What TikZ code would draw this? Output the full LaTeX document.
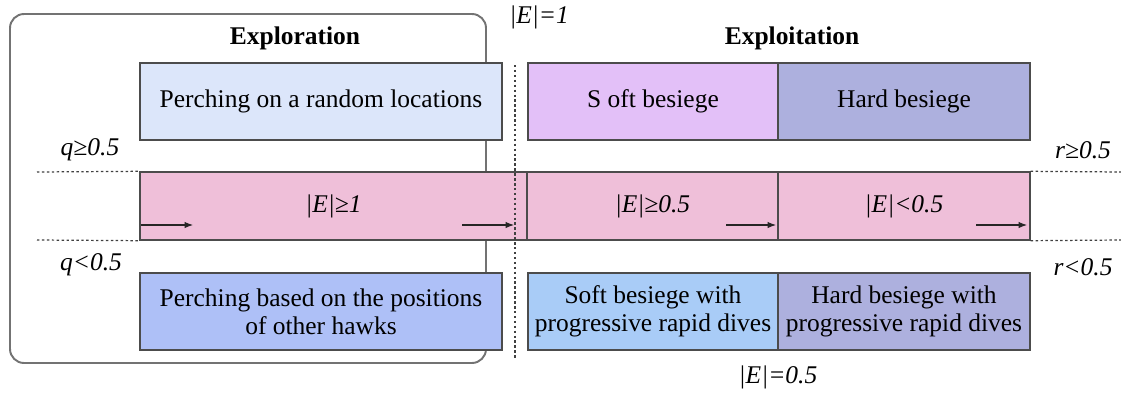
\documentclass[tikz,border=0pt]{standalone}
\usepackage{fontspec}
\setmainfont{Liberation Serif}
\usepackage{tikz}
\usetikzlibrary{arrows.meta,positioning}
\definecolor{pale}{HTML}{DCE6FA}
\definecolor{lilac}{HTML}{E3C0F8}
\definecolor{slate}{HTML}{ADB0DE}
\definecolor{rose}{HTML}{EFBFD9}
\definecolor{peri}{HTML}{AEC0F7}
\definecolor{sky}{HTML}{A9CCF7}
\tikzset{
  tx/.style={font=\fontsize{14.5}{16}\selectfont},
  ti/.style={font=\fontsize{14.5}{16}\selectfont\itshape},
  hd/.style={font=\fontsize{14.5}{16}\selectfont\bfseries},
  phase/.style={rectangle,draw=black!70,line width=.8pt,inner sep=2pt,align=center,
    font=\fontsize{14.5}{16}\selectfont},
  grp/.style={draw=black!55,line width=1.1pt,rounded corners=8pt},
  sep/.style={draw=black!75,line width=.7pt,dash pattern=on 1.4pt off 1.4pt},
  flow/.style={-{Latex[length=1.7mm,width=1.3mm]},line width=.6pt,draw=black!85},
}
\begin{document}
\begin{tikzpicture}[x=0.02cm,y=-0.02cm]
\useasboundingbox (0,0) rectangle (1121,396);
% exploration group
\draw[grp] (10,14) rectangle (486,363);
\node[hd] (explr) at (295,38) {Exploration};
\node[hd] (explt) at (792,38) {Exploitation};
\node[ti] (eone) at (539,17) {|E|=1};
% the two rows of behaviours
\node[phase,fill=pale,minimum width=7.24cm,minimum height=1.54cm] (rand) at (321,101.5)
  {Perching on a random locations};
\node[phase,fill=lilac,minimum width=5cm,minimum height=1.54cm] (soft) at (653,101.5)
  {S oft besiege};
\node[phase,fill=slate,minimum width=5.04cm,minimum height=1.54cm] (hard) at (904,101.5)
  {Hard besiege};
\node[phase,fill=rose,minimum width=7.74cm,minimum height=1.36cm] (eA) at (333.5,206) {};
\node[phase,fill=rose,minimum width=5.02cm,minimum height=1.36cm] (eB) at (652.5,206) {};
\node[phase,fill=rose,minimum width=5.04cm,minimum height=1.36cm] (eC) at (904,206) {};
\node[ti] at (eA) {|E|≥1};
\node[ti] at (eB) {|E|≥0.5};
\node[ti] at (eC) {|E|<0.5};
\node[phase,fill=peri,minimum width=7.24cm,minimum height=1.54cm] (pos) at (321,311.5)
  {Perching based on the positions\\ of other hawks};
\node[phase,fill=sky,minimum width=5cm,minimum height=1.54cm] (softd) at (653,311.5)
  {Soft besiege with\\ progressive rapid dives};
\node[phase,fill=slate,minimum width=5.04cm,minimum height=1.54cm] (hardd) at (904,311.5)
  {Hard besiege with\\ progressive rapid dives};
% switching thresholds
\coordinate (qt) at (37,172);
\coordinate (qb) at (37,240);
\coordinate (rt) at (1121,172);
\coordinate (rb) at (1121,240);
\draw[sep] (qt) -- (eA.north west);
\draw[sep] (qb) -- (eA.south west);
\draw[sep] (eC.north east) -- (rt);
\draw[sep] (eC.south east) -- (rb);
\coordinate (vt) at (515,65);
\coordinate (vb) at (515,358);
\draw[sep] (vt) -- (vb);
\node[ti] (qge) at (90,150) {q≥0.5};
\node[ti] (qlt) at (91,265) {q<0.5};
\node[ti] (rge) at (1083,150) {r≥0.5};
\node[ti] (rlt) at (1083,267) {r<0.5};
\node[ti] (ehalf) at (778,377) {|E|=0.5};
\foreach \n/\xa/\xb in {1/141/193, 2/462/514, 3/726/776, 4/976/1027}{
  \coordinate (s\n) at (\xa,225);
  \coordinate (t\n) at (\xb,225);
  \draw[flow] (s\n) -- (t\n);
}
\end{tikzpicture}
\end{document}
